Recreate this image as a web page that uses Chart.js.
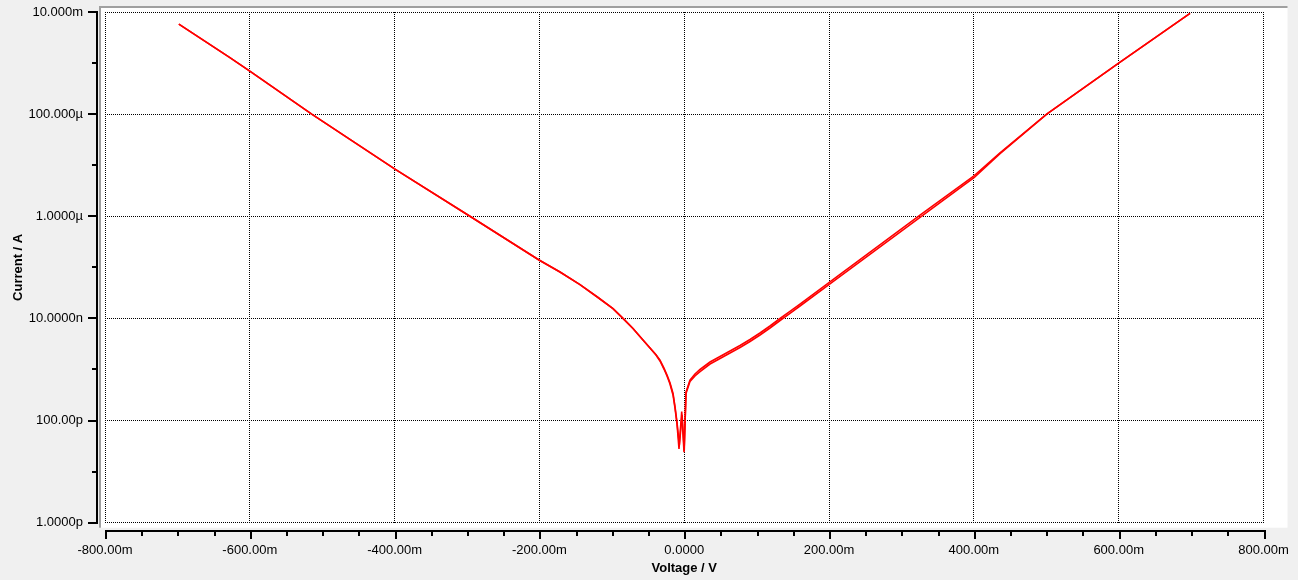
<!DOCTYPE html>
<html>
<head>
<meta charset="utf-8">
<script src="https://cdn.jsdelivr.net/npm/chart.js@4.4.0/dist/chart.umd.min.js"></script>
<style>
  html, body { margin: 0; padding: 0; background: #f0f0f0; }
  #wrap { width: 1298px; height: 580px; }
</style>
</head>
<body>
<div id="wrap"><canvas id="ivChart" width="1298" height="580"></canvas></div>
<script>
// sweep 1 (up) and sweep 2 (down), voltage in V, current in A
const voltsUp = [-0.698, -0.6275, -0.599, -0.5145, -0.399, -0.296, -0.2006, -0.1716, -0.144, -0.1191, -0.0984, -0.0846, -0.0708, -0.057, -0.0473, -0.039, -0.0335, -0.028, -0.0238, -0.0197, -0.0155, -0.0128, -0.01, -0.00725, -0.0035, -0.0003, 0.0024, 0.0079, 0.0148, 0.0218, 0.0356, 0.0494, 0.0632, 0.077, 0.0908, 0.1046, 0.1184, 0.1323, 0.146, 0.1598, 0.2003, 0.3256, 0.4006, 0.4361, 0.5006, 0.5995, 0.6985];
const currentUp = [5.8e-3, 1.28e-3, 6.8e-4, 1.0e-4, 8.3e-6, 1.0e-6, 1.39e-7, 8.1e-8, 4.6e-8, 2.57e-8, 1.56e-8, 1.0e-8, 6.35e-9, 3.78e-9, 2.64e-9, 1.92e-9, 1.47e-9, 1.02e-9, 7.46e-10, 5.2e-10, 3.17e-10, 1.76e-10, 8.57e-11, 2.77e-11, 1.5e-10, 2.4e-11, 3.4e-10, 5.8e-10, 7.5e-10, 9.1e-10, 1.28e-9, 1.64e-9, 2.1e-9, 2.7e-9, 3.53e-9, 4.74e-9, 6.49e-9, 9.1e-9, 1.25e-8, 1.75e-8, 4.66e-8, 9.5e-7, 5.75e-6, 1.68e-5, 1.0e-4, 9.9e-4, 9.4e-3];

const voltsDown = [-0.698, -0.6275, -0.599, -0.5145, -0.399, -0.296, -0.2006, -0.1716, -0.144, -0.1191, -0.0984, -0.0846, -0.0708, -0.057, -0.0473, -0.039, -0.0335, -0.028, -0.0238, -0.0197, -0.0155, -0.0128, -0.01, -0.0068, -0.003, 0.0, 0.0024, 0.0079, 0.0148, 0.0218, 0.0356, 0.0494, 0.0632, 0.077, 0.0908, 0.1046, 0.1184, 0.1323, 0.146, 0.1598, 0.2003, 0.3256, 0.4006, 0.4361, 0.5006, 0.5995, 0.6985];
const currentDown = [5.8e-3, 1.28e-3, 6.8e-4, 1.0e-4, 8.3e-6, 1.0e-6, 1.39e-7, 8.1e-8, 4.6e-8, 2.57e-8, 1.56e-8, 1.0e-8, 6.35e-9, 3.78e-9, 2.64e-9, 1.95e-9, 1.52e-9, 1.06e-9, 7.8e-10, 5.5e-10, 3.4e-10, 1.9e-10, 9.2e-11, 3.3e-11, 1.3e-10, 2.6e-11, 3.6e-10, 6.2e-10, 8.15e-10, 1.0e-9, 1.4e-9, 1.8e-9, 2.3e-9, 2.95e-9, 3.87e-9, 5.18e-9, 7.1e-9, 9.96e-9, 1.37e-8, 1.91e-8, 5.1e-8, 1.05e-6, 6.25e-6, 1.74e-5, 1.0e-4, 9.9e-4, 9.4e-3];

const xTickValues = [-0.8, -0.6, -0.4, -0.2, 0, 0.2, 0.4, 0.6, 0.8];
const xTickLabels = ['-800.00m', '-600.00m', '-400.00m', '-200.00m', '0.0000', '200.00m', '400.00m', '600.00m', '800.00m'];
const xMinorTicks = [-0.75, -0.7, -0.65, -0.55, -0.5, -0.45, -0.35, -0.3, -0.25, -0.15, -0.1, -0.05, 0.05, 0.1, 0.15, 0.25, 0.3, 0.35, 0.45, 0.5, 0.55, 0.65, 0.7, 0.75];

const yTickValues = [1e-2, 1e-4, 1e-6, 1e-8, 1e-10, 1e-12];
const yTickLabels = ['10.000m', '100.000µ', '1.0000µ', '10.0000n', '100.00p', '1.0000p'];
const yMinorTicks = [1e-3, 1e-5, 1e-7, 1e-9, 1e-11];

const fontFam = "'Liberation Sans', Arial, sans-serif";

function toPoints(xs, ys) {
  return xs.map((v, i) => ({ x: v, y: ys[i] }));
}

// keep the scales from asking the layout for extra room
function fixScale(s, w, h) {
  if (w) s.width = w;
  if (h) s.height = h;
  s.paddingTop = 0;
  s.paddingBottom = 0;
  s.paddingLeft = 0;
  s.paddingRight = 0;
}

// background, sunken frame and the offset axes with their tick marks
const framePlugin = {
  id: 'frame',
  beforeDraw(chart) {
    const c = chart.ctx;
    const a = chart.chartArea;
    c.save();
    c.fillStyle = '#f0f0f0';
    c.fillRect(0, 0, chart.width, chart.height);
    c.fillStyle = '#ffffff';
    c.fillRect(a.left - 4, a.top - 4, a.right - a.left + 28, a.bottom - a.top + 9);
    c.fillStyle = '#a0a0a0';
    c.fillRect(a.left - 6, a.top - 6, a.right - a.left + 30, 2);
    c.fillRect(a.left - 6, a.top - 6, 2, a.bottom - a.top + 11);
    c.restore();
  },
  afterDraw(chart) {
    const c = chart.ctx;
    const a = chart.chartArea;
    const xs = chart.scales.x;
    const ys = chart.scales.y;
    c.save();
    c.fillStyle = '#000000';

    // y axis
    const axX = Math.round(a.left) - 9;
    const yTop = Math.round(ys.getPixelForValue(1e-2));
    const yBot = Math.round(ys.getPixelForValue(1e-12));
    c.fillRect(axX, yTop - 1, 2, yBot - yTop + 2);
    yTickValues.forEach(v => {
      const p = Math.round(ys.getPixelForValue(v));
      c.fillRect(axX - 8, p - 1, 10, 2);
    });
    yMinorTicks.forEach(v => {
      const p = Math.round(ys.getPixelForValue(v));
      c.fillRect(axX - 4, p - 1, 6, 2);
    });

    // x axis
    const axY = Math.round(a.bottom) + 7;
    const xL = Math.round(xs.getPixelForValue(-0.8));
    const xR = Math.round(xs.getPixelForValue(0.8));
    c.fillRect(xL, axY, xR - xL + 2, 2);
    xTickValues.forEach(v => {
      const p = Math.round(xs.getPixelForValue(v));
      c.fillRect(p, axY, 2, 9);
    });
    xMinorTicks.forEach(v => {
      const p = Math.round(xs.getPixelForValue(v));
      c.fillRect(p, axY, 2, 6);
    });
    c.restore();
  }
};

const ctx = document.getElementById('ivChart');

const ivChart = new Chart(ctx, {
  type: 'scatter',
  data: {
    datasets: [{
      label: 'sweep up',
      data: toPoints(voltsUp, currentUp),
      showLine: true,
      borderColor: '#ff0000',
      borderWidth: 1.6,
      pointRadius: 0,
      tension: 0
    }, {
      label: 'sweep down',
      data: toPoints(voltsDown, currentDown),
      showLine: true,
      borderColor: '#ff0000',
      borderWidth: 1.6,
      pointRadius: 0,
      tension: 0
    }]
  },
  options: {
    responsive: false,
    animation: false,
    events: [],
    layout: { padding: { top: 12, right: 34.5, left: 0, bottom: 0 } },
    plugins: {
      legend: { display: false },
      tooltip: { enabled: false }
    },
    scales: {
      x: {
        type: 'linear',
        min: -0.8,
        max: 0.8,
        afterBuildTicks: s => { s.ticks = xTickValues.map(v => ({ value: v })); },
        afterFit: s => fixScale(s, 0, 57.3),
        grid: { color: '#000000', lineWidth: 1, drawTicks: false },
        border: { display: false, dash: [1, 1] },
        ticks: {
          autoSkip: false,
          maxRotation: 0,
          padding: 19.5,
          color: '#000000',
          font: { family: fontFam, size: 13 },
          callback: (v, i) => xTickLabels[i]
        },
        title: {
          display: true,
          text: 'Voltage / V',
          color: '#000000',
          font: { family: fontFam, size: 13, weight: 'bold' },
          padding: { top: 0, bottom: 3.7 }
        }
      },
      y: {
        type: 'logarithmic',
        min: 1e-12,
        max: 1e-2,
        afterBuildTicks: s => { s.ticks = yTickValues.map(v => ({ value: v })); },
        afterFit: s => fixScale(s, 105, 0),
        grid: { color: '#000000', lineWidth: 1, drawTicks: false },
        border: { display: false, dash: [1, 1] },
        ticks: {
          autoSkip: false,
          padding: 22,
          color: '#000000',
          font: { family: fontFam, size: 13 },
          callback: (v, i) => yTickLabels[i]
        },
        title: {
          display: true,
          text: 'Current / A',
          color: '#000000',
          font: { family: fontFam, size: 13, weight: 'bold' },
          padding: { top: 10.7, bottom: 0 }
        }
      }
    }
  },
  plugins: [framePlugin]
});
</script>
</body>
</html>
